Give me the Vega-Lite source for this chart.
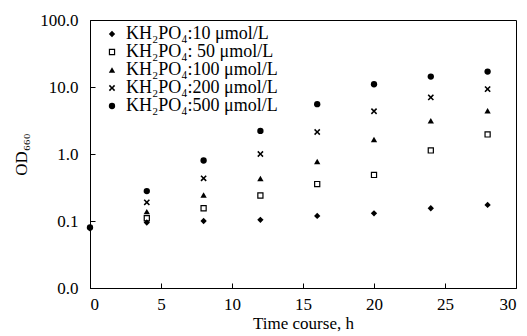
{
  "$schema": "https://vega.github.io/schema/vega-lite/v6.json",
  "width": 426,
  "height": 268,
  "autosize": {"type": "none"},
  "padding": {"left": 90, "top": 20, "right": 11, "bottom": 48},
  "background": "white",
  "config": {
    "view": {"stroke": "black", "strokeWidth": 1},
    "font": "Liberation Serif",
    "axis": {
      "domainColor": "black", "tickColor": "black", "labelColor": "black", "titleColor": "black",
      "labelFont": "Liberation Serif", "titleFont": "Liberation Serif",
      "labelFontSize": 17, "titleFontSize": 17, "titleFontWeight": "normal", "grid": false
    }
  },
  "data": {
    "values": [
      {"s": "KH₂PO₄:10 μmol/L", "t": 0, "od": 0.078},
      {"s": "KH₂PO₄:10 μmol/L", "t": 4, "od": 0.095},
      {"s": "KH₂PO₄:10 μmol/L", "t": 8, "od": 0.1},
      {"s": "KH₂PO₄:10 μmol/L", "t": 12, "od": 0.104},
      {"s": "KH₂PO₄:10 μmol/L", "t": 16, "od": 0.119},
      {"s": "KH₂PO₄:10 μmol/L", "t": 20, "od": 0.13},
      {"s": "KH₂PO₄:10 μmol/L", "t": 24, "od": 0.155},
      {"s": "KH₂PO₄:10 μmol/L", "t": 28, "od": 0.174},
      {"s": "KH₂PO₄: 50 μmol/L", "t": 4, "od": 0.11},
      {"s": "KH₂PO₄: 50 μmol/L", "t": 8, "od": 0.155},
      {"s": "KH₂PO₄: 50 μmol/L", "t": 12, "od": 0.24},
      {"s": "KH₂PO₄: 50 μmol/L", "t": 16, "od": 0.356},
      {"s": "KH₂PO₄: 50 μmol/L", "t": 20, "od": 0.487},
      {"s": "KH₂PO₄: 50 μmol/L", "t": 24, "od": 1.13},
      {"s": "KH₂PO₄: 50 μmol/L", "t": 28, "od": 1.96},
      {"s": "KH₂PO₄:100 μmol/L", "t": 4, "od": 0.138},
      {"s": "KH₂PO₄:100 μmol/L", "t": 8, "od": 0.245},
      {"s": "KH₂PO₄:100 μmol/L", "t": 12, "od": 0.43},
      {"s": "KH₂PO₄:100 μmol/L", "t": 16, "od": 0.77},
      {"s": "KH₂PO₄:100 μmol/L", "t": 20, "od": 1.64},
      {"s": "KH₂PO₄:100 μmol/L", "t": 24, "od": 3.13},
      {"s": "KH₂PO₄:100 μmol/L", "t": 28, "od": 4.42},
      {"s": "KH₂PO₄:200 μmol/L", "t": 4, "od": 0.19},
      {"s": "KH₂PO₄:200 μmol/L", "t": 8, "od": 0.434},
      {"s": "KH₂PO₄:200 μmol/L", "t": 12, "od": 1.0},
      {"s": "KH₂PO₄:200 μmol/L", "t": 16, "od": 2.13},
      {"s": "KH₂PO₄:200 μmol/L", "t": 20, "od": 4.35},
      {"s": "KH₂PO₄:200 μmol/L", "t": 24, "od": 7.0},
      {"s": "KH₂PO₄:200 μmol/L", "t": 28, "od": 9.3},
      {"s": "KH₂PO₄:500 μmol/L", "t": 0, "od": 0.08},
      {"s": "KH₂PO₄:500 μmol/L", "t": 4, "od": 0.28},
      {"s": "KH₂PO₄:500 μmol/L", "t": 8, "od": 0.8},
      {"s": "KH₂PO₄:500 μmol/L", "t": 12, "od": 2.21},
      {"s": "KH₂PO₄:500 μmol/L", "t": 16, "od": 5.55},
      {"s": "KH₂PO₄:500 μmol/L", "t": 20, "od": 11.0},
      {"s": "KH₂PO₄:500 μmol/L", "t": 24, "od": 14.3},
      {"s": "KH₂PO₄:500 μmol/L", "t": 28, "od": 17.0}
    ]
  },
  "mark": {"type": "point", "filled": true, "color": "black", "strokeWidth": 0, "size": 40, "opacity": 1},
  "encoding": {
    "x": {
      "field": "t", "type": "quantitative",
      "scale": {"domain": [0, 30], "nice": false, "zero": false},
      "axis": {"values": [0, 5, 10, 15, 20, 25, 30], "title": "Time course, h", "tickSize": -5, "labelPadding": 13, "titlePadding": 3}
    },
    "y": {
      "field": "od", "type": "quantitative",
      "scale": {"type": "log", "domain": [0.01, 100], "nice": false},
      "axis": {"values": [0.01, 0.1, 1, 10, 100], "format": ".1f", "title": "OD₆₆₀", "tickSize": -5, "labelPadding": 17, "titlePadding": 9}
    },
    "shape": {
      "field": "s", "type": "nominal",
      "scale": {
        "domain": ["KH₂PO₄:10 μmol/L", "KH₂PO₄: 50 μmol/L", "KH₂PO₄:100 μmol/L", "KH₂PO₄:200 μmol/L", "KH₂PO₄:500 μmol/L"],
        "range": ["diamond", "M-1,-1L1,-1L1,1L-1,1Z M-0.62,-0.62L-0.62,0.62L0.62,0.62L0.62,-0.62Z", "triangle-up", "M-1,-0.65L-0.65,-1L0,-0.35L0.65,-1L1,-0.65L0.35,0L1,0.65L0.65,1L0,0.35L-0.65,1L-1,0.65L-0.35,0Z", "circle"]
      },
      "legend": {"title": null, "orient": "none", "legendX": 13, "legendY": 5, "padding": 0, "labelFont": "Liberation Serif", "labelFontSize": 18, "labelColor": "black", "labelOffset": 5, "symbolSize": 40, "symbolFillColor": "black", "symbolStrokeWidth": 0, "rowPadding": 0, "labelLimit": 300}
    }
  }
}
